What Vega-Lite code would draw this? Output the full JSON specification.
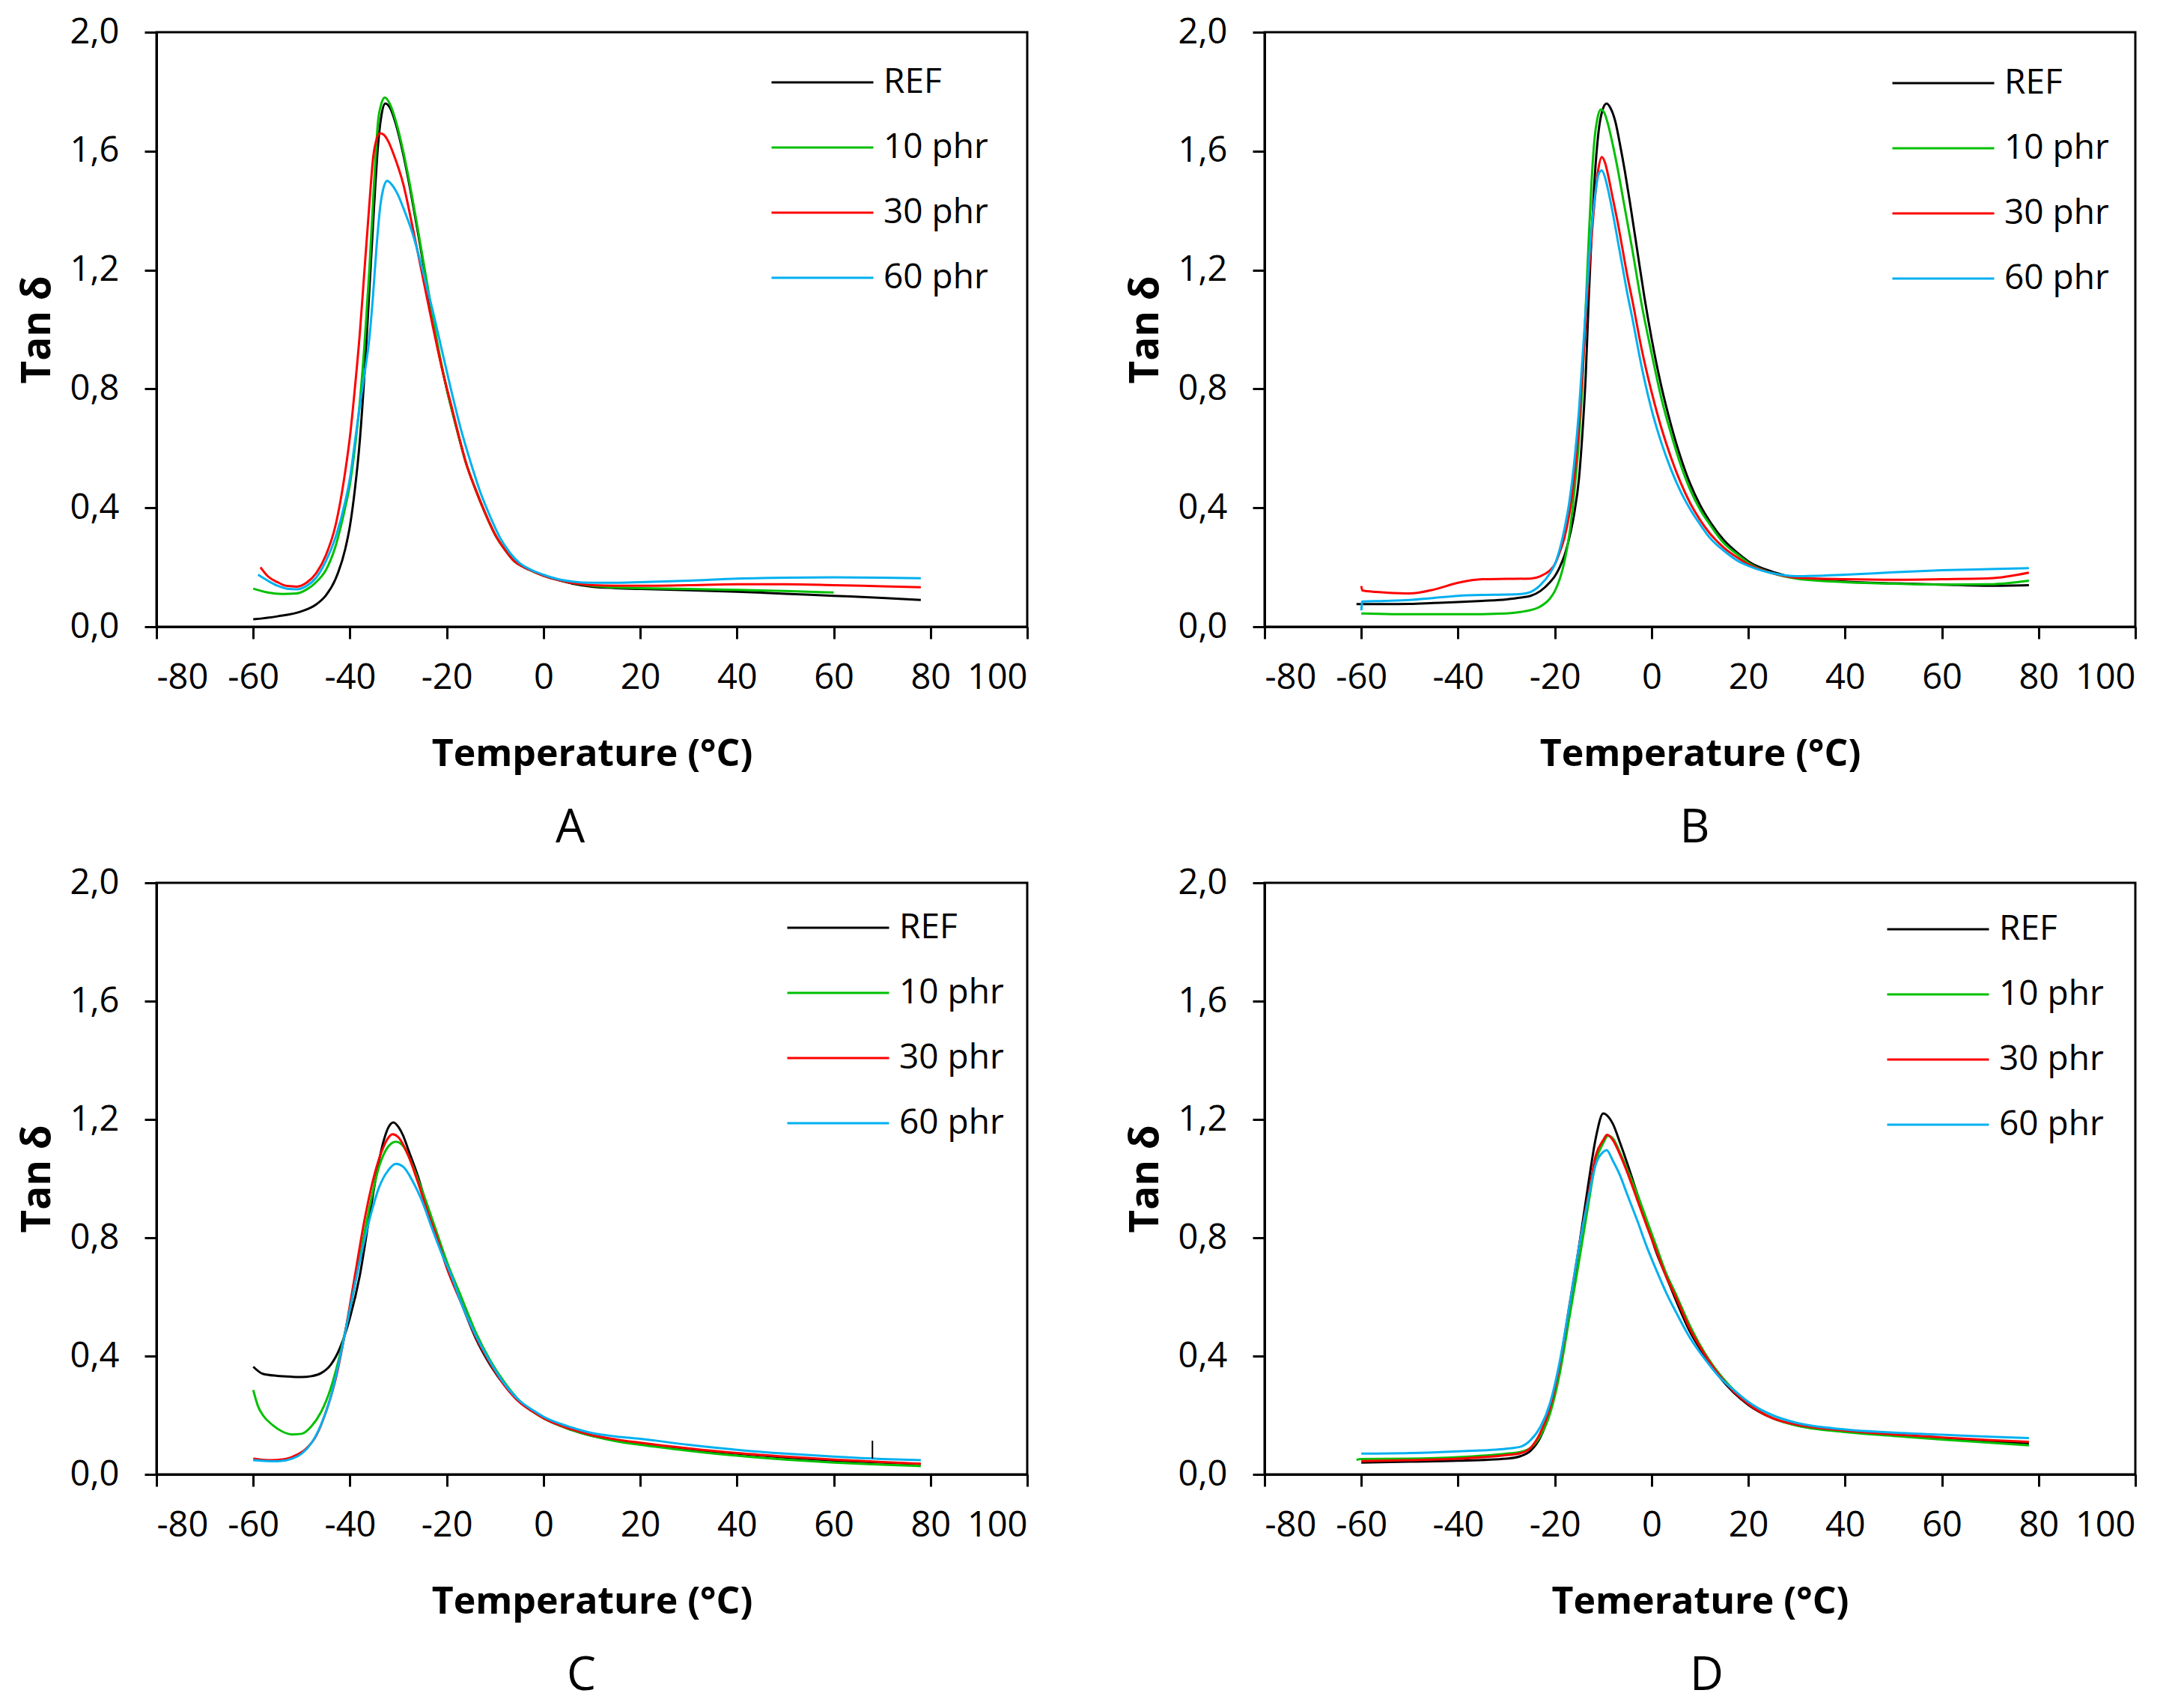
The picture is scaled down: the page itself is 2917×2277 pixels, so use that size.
{
"$schema": "https://vega.github.io/schema/vega-lite/v6.json",
"background": "white",
"padding": {"left": 22, "top": 17, "right": 5, "bottom": 5},
"config": {
  "font": "Open Sans",
  "view": {"stroke": "black", "strokeWidth": 3},
  "axis": {"grid": false, "domainColor": "black", "domainWidth": 3, "tickColor": "black", "tickWidth": 3, "tickSize": 16,
           "labelFont": "Open Sans", "labelFontSize": 47, "labelColor": "black", "titleFont": "Open Sans", "titleFontSize": 50, "titleFontWeight": "bold", "titleColor": "black"},
  "axisX": {"labelPadding": 29, "titlePadding": 54},
  "axisY": {"labelPadding": 34, "titlePadding": 16, "titleFontSize": 53},
  "title": {"font": "Open Sans", "fontSize": 62, "fontWeight": "normal", "color": "black", "orient": "bottom", "offset": 44},
  "legend": {"orient": "none", "symbolType": "stroke", "symbolSize": 18496, "symbolStrokeWidth": 3, "labelFont": "Open Sans", "labelFontSize": 46, "labelColor": "black", "labelOffset": 12, "clipHeight": 80, "rowPadding": 7, "padding": 0}
},
"datasets": {
"a": [
{"s":"REF","t":-60,"v":0.025},{"s":"REF","t":-55,"v":0.035},{"s":"REF","t":-50,"v":0.052},{"s":"REF","t":-47,"v":0.075},{"s":"REF","t":-45,"v":0.105},{"s":"REF","t":-43,"v":0.16},{"s":"REF","t":-41,"v":0.26},{"s":"REF","t":-40,"v":0.34},{"s":"REF","t":-39,"v":0.46},{"s":"REF","t":-38,"v":0.62},{"s":"REF","t":-37,"v":0.85},{"s":"REF","t":-36,"v":1.13},{"s":"REF","t":-35,"v":1.42},{"s":"REF","t":-34.2,"v":1.62},{"s":"REF","t":-33.5,"v":1.72},{"s":"REF","t":-32.7,"v":1.76},{"s":"REF","t":-31.7,"v":1.745},{"s":"REF","t":-30.5,"v":1.69},{"s":"REF","t":-29,"v":1.59},{"s":"REF","t":-28,"v":1.51},{"s":"REF","t":-26,"v":1.33},{"s":"REF","t":-24,"v":1.14},{"s":"REF","t":-22,"v":0.95},{"s":"REF","t":-20,"v":0.8},{"s":"REF","t":-18,"v":0.67},{"s":"REF","t":-16,"v":0.55},{"s":"REF","t":-14,"v":0.46},{"s":"REF","t":-12,"v":0.38},{"s":"REF","t":-10,"v":0.31},{"s":"REF","t":-8,"v":0.26},{"s":"REF","t":-6,"v":0.22},{"s":"REF","t":-4,"v":0.2},{"s":"REF","t":-2,"v":0.185},{"s":"REF","t":0,"v":0.172},{"s":"REF","t":3,"v":0.157},{"s":"REF","t":6,"v":0.145},{"s":"REF","t":10,"v":0.135},{"s":"REF","t":15,"v":0.13},{"s":"REF","t":20,"v":0.127},{"s":"REF","t":30,"v":0.123},{"s":"REF","t":40,"v":0.118},{"s":"REF","t":50,"v":0.111},{"s":"REF","t":60,"v":0.104},{"s":"REF","t":70,"v":0.097},{"s":"REF","t":78,"v":0.09},
{"s":"10 phr","t":-60,"v":0.128},{"s":"10 phr","t":-57,"v":0.115},{"s":"10 phr","t":-54,"v":0.11},{"s":"10 phr","t":-51,"v":0.112},{"s":"10 phr","t":-49,"v":0.125},{"s":"10 phr","t":-47,"v":0.15},{"s":"10 phr","t":-45,"v":0.19},{"s":"10 phr","t":-43,"v":0.27},{"s":"10 phr","t":-42,"v":0.33},{"s":"10 phr","t":-41,"v":0.4},{"s":"10 phr","t":-40,"v":0.48},{"s":"10 phr","t":-39,"v":0.6},{"s":"10 phr","t":-38,"v":0.75},{"s":"10 phr","t":-37,"v":0.95},{"s":"10 phr","t":-36,"v":1.2},{"s":"10 phr","t":-35,"v":1.5},{"s":"10 phr","t":-34.2,"v":1.7},{"s":"10 phr","t":-33.5,"v":1.76},{"s":"10 phr","t":-32.8,"v":1.78},{"s":"10 phr","t":-31.8,"v":1.76},{"s":"10 phr","t":-30.5,"v":1.7},{"s":"10 phr","t":-29,"v":1.6},{"s":"10 phr","t":-28,"v":1.52},{"s":"10 phr","t":-26,"v":1.34},{"s":"10 phr","t":-24,"v":1.15},{"s":"10 phr","t":-22,"v":0.96},{"s":"10 phr","t":-20,"v":0.8},{"s":"10 phr","t":-18,"v":0.67},{"s":"10 phr","t":-16,"v":0.55},{"s":"10 phr","t":-14,"v":0.46},{"s":"10 phr","t":-12,"v":0.38},{"s":"10 phr","t":-10,"v":0.31},{"s":"10 phr","t":-8,"v":0.26},{"s":"10 phr","t":-6,"v":0.22},{"s":"10 phr","t":-4,"v":0.2},{"s":"10 phr","t":-2,"v":0.185},{"s":"10 phr","t":0,"v":0.172},{"s":"10 phr","t":3,"v":0.158},{"s":"10 phr","t":6,"v":0.147},{"s":"10 phr","t":10,"v":0.138},{"s":"10 phr","t":15,"v":0.132},{"s":"10 phr","t":20,"v":0.13},{"s":"10 phr","t":30,"v":0.127},{"s":"10 phr","t":40,"v":0.124},{"s":"10 phr","t":50,"v":0.12},{"s":"10 phr","t":60,"v":0.115},
{"s":"30 phr","t":-58.5,"v":0.2},{"s":"30 phr","t":-57,"v":0.17},{"s":"30 phr","t":-55,"v":0.15},{"s":"30 phr","t":-53,"v":0.137},{"s":"30 phr","t":-51,"v":0.135},{"s":"30 phr","t":-49,"v":0.148},{"s":"30 phr","t":-47,"v":0.18},{"s":"30 phr","t":-45,"v":0.24},{"s":"30 phr","t":-43,"v":0.34},{"s":"30 phr","t":-42,"v":0.42},{"s":"30 phr","t":-41,"v":0.52},{"s":"30 phr","t":-40,"v":0.64},{"s":"30 phr","t":-39,"v":0.8},{"s":"30 phr","t":-38,"v":0.98},{"s":"30 phr","t":-37,"v":1.2},{"s":"30 phr","t":-36,"v":1.42},{"s":"30 phr","t":-35.2,"v":1.58},{"s":"30 phr","t":-34.5,"v":1.64},{"s":"30 phr","t":-33.8,"v":1.66},{"s":"30 phr","t":-33,"v":1.655},{"s":"30 phr","t":-32,"v":1.63},{"s":"30 phr","t":-31,"v":1.59},{"s":"30 phr","t":-29,"v":1.49},{"s":"30 phr","t":-27,"v":1.34},{"s":"30 phr","t":-25,"v":1.18},{"s":"30 phr","t":-23,"v":1.02},{"s":"30 phr","t":-21,"v":0.87},{"s":"30 phr","t":-19,"v":0.74},{"s":"30 phr","t":-17,"v":0.61},{"s":"30 phr","t":-16,"v":0.55},{"s":"30 phr","t":-14,"v":0.46},{"s":"30 phr","t":-12,"v":0.38},{"s":"30 phr","t":-10,"v":0.31},{"s":"30 phr","t":-8,"v":0.26},{"s":"30 phr","t":-6,"v":0.22},{"s":"30 phr","t":-4,"v":0.2},{"s":"30 phr","t":-2,"v":0.185},{"s":"30 phr","t":0,"v":0.172},{"s":"30 phr","t":3,"v":0.157},{"s":"30 phr","t":6,"v":0.147},{"s":"30 phr","t":10,"v":0.14},{"s":"30 phr","t":15,"v":0.138},{"s":"30 phr","t":20,"v":0.138},{"s":"30 phr","t":30,"v":0.14},{"s":"30 phr","t":40,"v":0.143},{"s":"30 phr","t":50,"v":0.143},{"s":"30 phr","t":60,"v":0.14},{"s":"30 phr","t":70,"v":0.136},{"s":"30 phr","t":78,"v":0.133},
{"s":"60 phr","t":-59,"v":0.175},{"s":"60 phr","t":-57,"v":0.155},{"s":"60 phr","t":-55,"v":0.138},{"s":"60 phr","t":-53,"v":0.128},{"s":"60 phr","t":-51,"v":0.126},{"s":"60 phr","t":-49,"v":0.137},{"s":"60 phr","t":-47,"v":0.165},{"s":"60 phr","t":-45,"v":0.22},{"s":"60 phr","t":-43,"v":0.3},{"s":"60 phr","t":-41,"v":0.42},{"s":"60 phr","t":-40,"v":0.5},{"s":"60 phr","t":-39,"v":0.62},{"s":"60 phr","t":-38,"v":0.74},{"s":"60 phr","t":-37,"v":0.85},{"s":"60 phr","t":-36,"v":0.97},{"s":"60 phr","t":-35.3,"v":1.1},{"s":"60 phr","t":-34.5,"v":1.28},{"s":"60 phr","t":-33.7,"v":1.42},{"s":"60 phr","t":-33,"v":1.48},{"s":"60 phr","t":-32.3,"v":1.5},{"s":"60 phr","t":-31.5,"v":1.49},{"s":"60 phr","t":-30,"v":1.45},{"s":"60 phr","t":-29,"v":1.41},{"s":"60 phr","t":-27,"v":1.32},{"s":"60 phr","t":-25,"v":1.2},{"s":"60 phr","t":-23,"v":1.07},{"s":"60 phr","t":-21,"v":0.93},{"s":"60 phr","t":-19,"v":0.79},{"s":"60 phr","t":-17,"v":0.66},{"s":"60 phr","t":-15,"v":0.55},{"s":"60 phr","t":-13,"v":0.45},{"s":"60 phr","t":-11,"v":0.37},{"s":"60 phr","t":-9,"v":0.3},{"s":"60 phr","t":-7,"v":0.25},{"s":"60 phr","t":-5,"v":0.215},{"s":"60 phr","t":-3,"v":0.195},{"s":"60 phr","t":0,"v":0.175},{"s":"60 phr","t":3,"v":0.16},{"s":"60 phr","t":6,"v":0.152},{"s":"60 phr","t":10,"v":0.148},{"s":"60 phr","t":15,"v":0.148},{"s":"60 phr","t":20,"v":0.15},{"s":"60 phr","t":30,"v":0.155},{"s":"60 phr","t":40,"v":0.162},{"s":"60 phr","t":50,"v":0.165},{"s":"60 phr","t":60,"v":0.166},{"s":"60 phr","t":70,"v":0.165},{"s":"60 phr","t":78,"v":0.163}
],
"b": [
{"s":"REF","t":-61,"v":0.076},{"s":"REF","t":-55,"v":0.076},{"s":"REF","t":-50,"v":0.077},{"s":"REF","t":-45,"v":0.08},{"s":"REF","t":-40,"v":0.083},{"s":"REF","t":-35,"v":0.087},{"s":"REF","t":-30,"v":0.092},{"s":"REF","t":-27,"v":0.098},{"s":"REF","t":-25,"v":0.104},{"s":"REF","t":-23,"v":0.12},{"s":"REF","t":-21,"v":0.15},{"s":"REF","t":-20,"v":0.17},{"s":"REF","t":-19,"v":0.2},{"s":"REF","t":-18,"v":0.24},{"s":"REF","t":-17,"v":0.3},{"s":"REF","t":-16,"v":0.38},{"s":"REF","t":-15,"v":0.5},{"s":"REF","t":-14.3,"v":0.65},{"s":"REF","t":-13.6,"v":0.85},{"s":"REF","t":-13,"v":1.1},{"s":"REF","t":-12.4,"v":1.32},{"s":"REF","t":-11.8,"v":1.5},{"s":"REF","t":-11,"v":1.66},{"s":"REF","t":-10.2,"v":1.735},{"s":"REF","t":-9.3,"v":1.76},{"s":"REF","t":-8.5,"v":1.745},{"s":"REF","t":-7.5,"v":1.7},{"s":"REF","t":-6.5,"v":1.62},{"s":"REF","t":-5.5,"v":1.53},{"s":"REF","t":-4.5,"v":1.43},{"s":"REF","t":-3,"v":1.27},{"s":"REF","t":-1.5,"v":1.11},{"s":"REF","t":0,"v":0.97},{"s":"REF","t":2,"v":0.81},{"s":"REF","t":4,"v":0.68},{"s":"REF","t":6,"v":0.57},{"s":"REF","t":8,"v":0.48},{"s":"REF","t":10,"v":0.41},{"s":"REF","t":12,"v":0.355},{"s":"REF","t":15,"v":0.29},{"s":"REF","t":18,"v":0.245},{"s":"REF","t":20,"v":0.22},{"s":"REF","t":25,"v":0.185},{"s":"REF","t":30,"v":0.165},{"s":"REF","t":40,"v":0.152},{"s":"REF","t":50,"v":0.146},{"s":"REF","t":60,"v":0.142},{"s":"REF","t":70,"v":0.138},{"s":"REF","t":78,"v":0.14},
{"s":"10 phr","t":-60,"v":0.045},{"s":"10 phr","t":-55,"v":0.043},{"s":"10 phr","t":-50,"v":0.042},{"s":"10 phr","t":-40,"v":0.042},{"s":"10 phr","t":-30,"v":0.045},{"s":"10 phr","t":-27,"v":0.05},{"s":"10 phr","t":-25,"v":0.056},{"s":"10 phr","t":-23,"v":0.068},{"s":"10 phr","t":-21,"v":0.095},{"s":"10 phr","t":-20,"v":0.12},{"s":"10 phr","t":-19,"v":0.16},{"s":"10 phr","t":-18,"v":0.22},{"s":"10 phr","t":-17,"v":0.31},{"s":"10 phr","t":-16,"v":0.45},{"s":"10 phr","t":-15,"v":0.63},{"s":"10 phr","t":-14.3,"v":0.82},{"s":"10 phr","t":-13.6,"v":1.08},{"s":"10 phr","t":-13,"v":1.3},{"s":"10 phr","t":-12.4,"v":1.5},{"s":"10 phr","t":-11.8,"v":1.64},{"s":"10 phr","t":-11.2,"v":1.71},{"s":"10 phr","t":-10.5,"v":1.74},{"s":"10 phr","t":-9.8,"v":1.73},{"s":"10 phr","t":-9,"v":1.69},{"s":"10 phr","t":-8,"v":1.62},{"s":"10 phr","t":-7,"v":1.54},{"s":"10 phr","t":-6,"v":1.45},{"s":"10 phr","t":-5,"v":1.36},{"s":"10 phr","t":-4,"v":1.27},{"s":"10 phr","t":-2,"v":1.08},{"s":"10 phr","t":0,"v":0.92},{"s":"10 phr","t":2,"v":0.77},{"s":"10 phr","t":4,"v":0.65},{"s":"10 phr","t":6,"v":0.545},{"s":"10 phr","t":8,"v":0.46},{"s":"10 phr","t":10,"v":0.395},{"s":"10 phr","t":12,"v":0.345},{"s":"10 phr","t":15,"v":0.28},{"s":"10 phr","t":18,"v":0.24},{"s":"10 phr","t":20,"v":0.215},{"s":"10 phr","t":25,"v":0.18},{"s":"10 phr","t":30,"v":0.162},{"s":"10 phr","t":40,"v":0.15},{"s":"10 phr","t":50,"v":0.145},{"s":"10 phr","t":60,"v":0.142},{"s":"10 phr","t":70,"v":0.143},{"s":"10 phr","t":78,"v":0.155},
{"s":"30 phr","t":-60,"v":0.137},{"s":"30 phr","t":-59.8,"v":0.122},{"s":"30 phr","t":-57,"v":0.117},{"s":"30 phr","t":-55,"v":0.115},{"s":"30 phr","t":-50,"v":0.112},{"s":"30 phr","t":-45,"v":0.125},{"s":"30 phr","t":-40,"v":0.148},{"s":"30 phr","t":-35,"v":0.16},{"s":"30 phr","t":-30,"v":0.161},{"s":"30 phr","t":-25,"v":0.162},{"s":"30 phr","t":-23,"v":0.17},{"s":"30 phr","t":-21,"v":0.19},{"s":"30 phr","t":-20,"v":0.21},{"s":"30 phr","t":-19,"v":0.25},{"s":"30 phr","t":-18,"v":0.3},{"s":"30 phr","t":-17,"v":0.38},{"s":"30 phr","t":-16,"v":0.5},{"s":"30 phr","t":-15,"v":0.68},{"s":"30 phr","t":-14.3,"v":0.85},{"s":"30 phr","t":-13.6,"v":1.03},{"s":"30 phr","t":-13,"v":1.18},{"s":"30 phr","t":-12.3,"v":1.33},{"s":"30 phr","t":-11.6,"v":1.46},{"s":"30 phr","t":-11,"v":1.54},{"s":"30 phr","t":-10.3,"v":1.58},{"s":"30 phr","t":-9.6,"v":1.56},{"s":"30 phr","t":-9,"v":1.52},{"s":"30 phr","t":-8,"v":1.44},{"s":"30 phr","t":-7,"v":1.36},{"s":"30 phr","t":-6,"v":1.27},{"s":"30 phr","t":-5,"v":1.18},{"s":"30 phr","t":-4,"v":1.1},{"s":"30 phr","t":-2,"v":0.93},{"s":"30 phr","t":0,"v":0.79},{"s":"30 phr","t":2,"v":0.67},{"s":"30 phr","t":4,"v":0.57},{"s":"30 phr","t":6,"v":0.485},{"s":"30 phr","t":8,"v":0.415},{"s":"30 phr","t":10,"v":0.36},{"s":"30 phr","t":12,"v":0.315},{"s":"30 phr","t":15,"v":0.265},{"s":"30 phr","t":18,"v":0.23},{"s":"30 phr","t":20,"v":0.21},{"s":"30 phr","t":25,"v":0.18},{"s":"30 phr","t":30,"v":0.165},{"s":"30 phr","t":40,"v":0.16},{"s":"30 phr","t":50,"v":0.158},{"s":"30 phr","t":60,"v":0.16},{"s":"30 phr","t":70,"v":0.163},{"s":"30 phr","t":78,"v":0.182},
{"s":"60 phr","t":-60,"v":0.055},{"s":"60 phr","t":-59.8,"v":0.085},{"s":"60 phr","t":-55,"v":0.087},{"s":"60 phr","t":-50,"v":0.09},{"s":"60 phr","t":-45,"v":0.097},{"s":"60 phr","t":-40,"v":0.104},{"s":"60 phr","t":-35,"v":0.107},{"s":"60 phr","t":-30,"v":0.108},{"s":"60 phr","t":-27,"v":0.11},{"s":"60 phr","t":-25,"v":0.117},{"s":"60 phr","t":-23,"v":0.14},{"s":"60 phr","t":-21,"v":0.18},{"s":"60 phr","t":-20,"v":0.21},{"s":"60 phr","t":-19,"v":0.26},{"s":"60 phr","t":-18,"v":0.33},{"s":"60 phr","t":-17,"v":0.42},{"s":"60 phr","t":-16,"v":0.55},{"s":"60 phr","t":-15,"v":0.73},{"s":"60 phr","t":-14.3,"v":0.9},{"s":"60 phr","t":-13.6,"v":1.07},{"s":"60 phr","t":-13,"v":1.22},{"s":"60 phr","t":-12.3,"v":1.36},{"s":"60 phr","t":-11.6,"v":1.46},{"s":"60 phr","t":-11,"v":1.52},{"s":"60 phr","t":-10.3,"v":1.535},{"s":"60 phr","t":-9.6,"v":1.51},{"s":"60 phr","t":-9,"v":1.47},{"s":"60 phr","t":-8,"v":1.39},{"s":"60 phr","t":-7,"v":1.3},{"s":"60 phr","t":-6,"v":1.21},{"s":"60 phr","t":-5,"v":1.12},{"s":"60 phr","t":-4,"v":1.04},{"s":"60 phr","t":-2,"v":0.87},{"s":"60 phr","t":0,"v":0.73},{"s":"60 phr","t":2,"v":0.62},{"s":"60 phr","t":4,"v":0.53},{"s":"60 phr","t":6,"v":0.455},{"s":"60 phr","t":8,"v":0.395},{"s":"60 phr","t":10,"v":0.345},{"s":"60 phr","t":12,"v":0.3},{"s":"60 phr","t":15,"v":0.255},{"s":"60 phr","t":18,"v":0.22},{"s":"60 phr","t":20,"v":0.205},{"s":"60 phr","t":25,"v":0.18},{"s":"60 phr","t":30,"v":0.17},{"s":"60 phr","t":40,"v":0.175},{"s":"60 phr","t":50,"v":0.183},{"s":"60 phr","t":60,"v":0.19},{"s":"60 phr","t":70,"v":0.194},{"s":"60 phr","t":78,"v":0.197}
],
"c": [
{"s":"REF","t":-60,"v":0.364},{"s":"REF","t":-58,"v":0.34},{"s":"REF","t":-55,"v":0.333},{"s":"REF","t":-52,"v":0.33},{"s":"REF","t":-50,"v":0.329},{"s":"REF","t":-48,"v":0.332},{"s":"REF","t":-46,"v":0.342},{"s":"REF","t":-44,"v":0.37},{"s":"REF","t":-42,"v":0.43},{"s":"REF","t":-40,"v":0.53},{"s":"REF","t":-38,"v":0.67},{"s":"REF","t":-36,"v":0.87},{"s":"REF","t":-34,"v":1.06},{"s":"REF","t":-33,"v":1.13},{"s":"REF","t":-32,"v":1.175},{"s":"REF","t":-31,"v":1.19},{"s":"REF","t":-30,"v":1.175},{"s":"REF","t":-29,"v":1.145},{"s":"REF","t":-28,"v":1.1},{"s":"REF","t":-26,"v":1.01},{"s":"REF","t":-24,"v":0.9},{"s":"REF","t":-22,"v":0.8},{"s":"REF","t":-20,"v":0.7},{"s":"REF","t":-17,"v":0.58},{"s":"REF","t":-14,"v":0.46},{"s":"REF","t":-11,"v":0.37},{"s":"REF","t":-8,"v":0.3},{"s":"REF","t":-5,"v":0.245},{"s":"REF","t":-2,"v":0.21},{"s":"REF","t":0,"v":0.19},{"s":"REF","t":5,"v":0.155},{"s":"REF","t":10,"v":0.13},{"s":"REF","t":15,"v":0.115},{"s":"REF","t":20,"v":0.105},{"s":"REF","t":30,"v":0.085},{"s":"REF","t":40,"v":0.07},{"s":"REF","t":50,"v":0.057},{"s":"REF","t":60,"v":0.047},{"s":"REF","t":70,"v":0.04},{"s":"REF","t":78,"v":0.035},
{"s":"10 phr","t":-60,"v":0.285},{"s":"10 phr","t":-59,"v":0.23},{"s":"10 phr","t":-58,"v":0.2},{"s":"10 phr","t":-56,"v":0.167},{"s":"10 phr","t":-54,"v":0.145},{"s":"10 phr","t":-52,"v":0.135},{"s":"10 phr","t":-50,"v":0.137},{"s":"10 phr","t":-48,"v":0.162},{"s":"10 phr","t":-46,"v":0.21},{"s":"10 phr","t":-44,"v":0.29},{"s":"10 phr","t":-42,"v":0.41},{"s":"10 phr","t":-40,"v":0.56},{"s":"10 phr","t":-38,"v":0.73},{"s":"10 phr","t":-36,"v":0.9},{"s":"10 phr","t":-34,"v":1.04},{"s":"10 phr","t":-32,"v":1.11},{"s":"10 phr","t":-30.5,"v":1.125},{"s":"10 phr","t":-29,"v":1.11},{"s":"10 phr","t":-28,"v":1.08},{"s":"10 phr","t":-26,"v":1.0},{"s":"10 phr","t":-24,"v":0.91},{"s":"10 phr","t":-22,"v":0.815},{"s":"10 phr","t":-20,"v":0.72},{"s":"10 phr","t":-17,"v":0.6},{"s":"10 phr","t":-14,"v":0.48},{"s":"10 phr","t":-11,"v":0.385},{"s":"10 phr","t":-8,"v":0.31},{"s":"10 phr","t":-5,"v":0.25},{"s":"10 phr","t":-2,"v":0.21},{"s":"10 phr","t":0,"v":0.19},{"s":"10 phr","t":5,"v":0.155},{"s":"10 phr","t":10,"v":0.13},{"s":"10 phr","t":15,"v":0.112},{"s":"10 phr","t":20,"v":0.1},{"s":"10 phr","t":30,"v":0.08},{"s":"10 phr","t":40,"v":0.063},{"s":"10 phr","t":50,"v":0.05},{"s":"10 phr","t":60,"v":0.04},{"s":"10 phr","t":70,"v":0.033},{"s":"10 phr","t":78,"v":0.028},
{"s":"30 phr","t":-60,"v":0.053},{"s":"30 phr","t":-57,"v":0.048},{"s":"30 phr","t":-55,"v":0.049},{"s":"30 phr","t":-53,"v":0.053},{"s":"30 phr","t":-51,"v":0.066},{"s":"30 phr","t":-49,"v":0.088},{"s":"30 phr","t":-47,"v":0.13},{"s":"30 phr","t":-45,"v":0.21},{"s":"30 phr","t":-43,"v":0.32},{"s":"30 phr","t":-41,"v":0.48},{"s":"30 phr","t":-39,"v":0.67},{"s":"30 phr","t":-37,"v":0.86},{"s":"30 phr","t":-35,"v":1.01},{"s":"30 phr","t":-33,"v":1.11},{"s":"30 phr","t":-32,"v":1.14},{"s":"30 phr","t":-31.2,"v":1.15},{"s":"30 phr","t":-30,"v":1.14},{"s":"30 phr","t":-28,"v":1.08},{"s":"30 phr","t":-26,"v":0.99},{"s":"30 phr","t":-24,"v":0.89},{"s":"30 phr","t":-22,"v":0.8},{"s":"30 phr","t":-20,"v":0.7},{"s":"30 phr","t":-17,"v":0.58},{"s":"30 phr","t":-14,"v":0.465},{"s":"30 phr","t":-11,"v":0.375},{"s":"30 phr","t":-8,"v":0.3},{"s":"30 phr","t":-5,"v":0.245},{"s":"30 phr","t":-2,"v":0.21},{"s":"30 phr","t":0,"v":0.19},{"s":"30 phr","t":5,"v":0.157},{"s":"30 phr","t":10,"v":0.133},{"s":"30 phr","t":15,"v":0.118},{"s":"30 phr","t":20,"v":0.107},{"s":"30 phr","t":30,"v":0.088},{"s":"30 phr","t":40,"v":0.072},{"s":"30 phr","t":50,"v":0.06},{"s":"30 phr","t":60,"v":0.05},{"s":"30 phr","t":70,"v":0.042},{"s":"30 phr","t":78,"v":0.036},
{"s":"60 phr","t":-60,"v":0.048},{"s":"60 phr","t":-55,"v":0.044},{"s":"60 phr","t":-52,"v":0.053},{"s":"60 phr","t":-50,"v":0.07},{"s":"60 phr","t":-48,"v":0.105},{"s":"60 phr","t":-46,"v":0.167},{"s":"60 phr","t":-44,"v":0.26},{"s":"60 phr","t":-42,"v":0.4},{"s":"60 phr","t":-40,"v":0.56},{"s":"60 phr","t":-38,"v":0.72},{"s":"60 phr","t":-36,"v":0.86},{"s":"60 phr","t":-34,"v":0.97},{"s":"60 phr","t":-32,"v":1.03},{"s":"60 phr","t":-30.5,"v":1.05},{"s":"60 phr","t":-29,"v":1.04},{"s":"60 phr","t":-27,"v":0.99},{"s":"60 phr","t":-25,"v":0.92},{"s":"60 phr","t":-23,"v":0.83},{"s":"60 phr","t":-21,"v":0.745},{"s":"60 phr","t":-19,"v":0.67},{"s":"60 phr","t":-17,"v":0.58},{"s":"60 phr","t":-14,"v":0.47},{"s":"60 phr","t":-11,"v":0.38},{"s":"60 phr","t":-8,"v":0.305},{"s":"60 phr","t":-5,"v":0.25},{"s":"60 phr","t":-2,"v":0.215},{"s":"60 phr","t":0,"v":0.195},{"s":"60 phr","t":5,"v":0.163},{"s":"60 phr","t":10,"v":0.14},{"s":"60 phr","t":15,"v":0.128},{"s":"60 phr","t":20,"v":0.12},{"s":"60 phr","t":30,"v":0.1},{"s":"60 phr","t":40,"v":0.083},{"s":"60 phr","t":50,"v":0.07},{"s":"60 phr","t":60,"v":0.06},{"s":"60 phr","t":70,"v":0.052},{"s":"60 phr","t":78,"v":0.048}
],
"cmark": [{"t": 68, "lo": 0.053, "hi": 0.114}],
"d": [
{"s":"REF","t":-60,"v":0.04},{"s":"REF","t":-50,"v":0.043},{"s":"REF","t":-40,"v":0.046},{"s":"REF","t":-30,"v":0.053},{"s":"REF","t":-27,"v":0.062},{"s":"REF","t":-25,"v":0.08},{"s":"REF","t":-23,"v":0.125},{"s":"REF","t":-21,"v":0.214},{"s":"REF","t":-19,"v":0.357},{"s":"REF","t":-17,"v":0.54},{"s":"REF","t":-15,"v":0.77},{"s":"REF","t":-13,"v":0.99},{"s":"REF","t":-11.5,"v":1.14},{"s":"REF","t":-10,"v":1.22},{"s":"REF","t":-9,"v":1.21},{"s":"REF","t":-8,"v":1.185},{"s":"REF","t":-6.5,"v":1.12},{"s":"REF","t":-5,"v":1.05},{"s":"REF","t":-3,"v":0.95},{"s":"REF","t":-1,"v":0.85},{"s":"REF","t":1,"v":0.75},{"s":"REF","t":3,"v":0.67},{"s":"REF","t":5,"v":0.59},{"s":"REF","t":8,"v":0.48},{"s":"REF","t":11,"v":0.4},{"s":"REF","t":14,"v":0.33},{"s":"REF","t":17,"v":0.276},{"s":"REF","t":20,"v":0.235},{"s":"REF","t":25,"v":0.19},{"s":"REF","t":30,"v":0.166},{"s":"REF","t":40,"v":0.146},{"s":"REF","t":50,"v":0.133},{"s":"REF","t":60,"v":0.122},{"s":"REF","t":70,"v":0.112},{"s":"REF","t":78,"v":0.105},
{"s":"10 phr","t":-61,"v":0.049},{"s":"10 phr","t":-60,"v":0.052},{"s":"10 phr","t":-50,"v":0.053},{"s":"10 phr","t":-40,"v":0.058},{"s":"10 phr","t":-30,"v":0.07},{"s":"10 phr","t":-27,"v":0.076},{"s":"10 phr","t":-25,"v":0.09},{"s":"10 phr","t":-23,"v":0.13},{"s":"10 phr","t":-21,"v":0.205},{"s":"10 phr","t":-19,"v":0.34},{"s":"10 phr","t":-17,"v":0.53},{"s":"10 phr","t":-15,"v":0.72},{"s":"10 phr","t":-13,"v":0.92},{"s":"10 phr","t":-11.5,"v":1.06},{"s":"10 phr","t":-10,"v":1.12},{"s":"10 phr","t":-9,"v":1.145},{"s":"10 phr","t":-8,"v":1.136},{"s":"10 phr","t":-6.5,"v":1.087},{"s":"10 phr","t":-5,"v":1.03},{"s":"10 phr","t":-3,"v":0.95},{"s":"10 phr","t":-1,"v":0.86},{"s":"10 phr","t":1,"v":0.77},{"s":"10 phr","t":3,"v":0.68},{"s":"10 phr","t":5,"v":0.61},{"s":"10 phr","t":8,"v":0.5},{"s":"10 phr","t":11,"v":0.41},{"s":"10 phr","t":14,"v":0.34},{"s":"10 phr","t":17,"v":0.285},{"s":"10 phr","t":20,"v":0.24},{"s":"10 phr","t":25,"v":0.19},{"s":"10 phr","t":30,"v":0.165},{"s":"10 phr","t":40,"v":0.143},{"s":"10 phr","t":50,"v":0.13},{"s":"10 phr","t":60,"v":0.118},{"s":"10 phr","t":70,"v":0.107},{"s":"10 phr","t":78,"v":0.098},
{"s":"30 phr","t":-60,"v":0.045},{"s":"30 phr","t":-50,"v":0.048},{"s":"30 phr","t":-40,"v":0.053},{"s":"30 phr","t":-30,"v":0.065},{"s":"30 phr","t":-27,"v":0.072},{"s":"30 phr","t":-25,"v":0.09},{"s":"30 phr","t":-23,"v":0.14},{"s":"30 phr","t":-21,"v":0.225},{"s":"30 phr","t":-19,"v":0.37},{"s":"30 phr","t":-17,"v":0.57},{"s":"30 phr","t":-15,"v":0.77},{"s":"30 phr","t":-13,"v":0.95},{"s":"30 phr","t":-11.5,"v":1.08},{"s":"30 phr","t":-10,"v":1.13},{"s":"30 phr","t":-9.2,"v":1.148},{"s":"30 phr","t":-8,"v":1.13},{"s":"30 phr","t":-6.5,"v":1.08},{"s":"30 phr","t":-5,"v":1.02},{"s":"30 phr","t":-3,"v":0.93},{"s":"30 phr","t":-1,"v":0.84},{"s":"30 phr","t":1,"v":0.755},{"s":"30 phr","t":3,"v":0.67},{"s":"30 phr","t":5,"v":0.6},{"s":"30 phr","t":8,"v":0.49},{"s":"30 phr","t":11,"v":0.405},{"s":"30 phr","t":14,"v":0.335},{"s":"30 phr","t":17,"v":0.28},{"s":"30 phr","t":20,"v":0.238},{"s":"30 phr","t":25,"v":0.19},{"s":"30 phr","t":30,"v":0.168},{"s":"30 phr","t":40,"v":0.148},{"s":"30 phr","t":50,"v":0.135},{"s":"30 phr","t":60,"v":0.125},{"s":"30 phr","t":70,"v":0.116},{"s":"30 phr","t":78,"v":0.11},
{"s":"60 phr","t":-60,"v":0.07},{"s":"60 phr","t":-50,"v":0.072},{"s":"60 phr","t":-40,"v":0.078},{"s":"60 phr","t":-30,"v":0.087},{"s":"60 phr","t":-27,"v":0.094},{"s":"60 phr","t":-25,"v":0.116},{"s":"60 phr","t":-23,"v":0.16},{"s":"60 phr","t":-21,"v":0.24},{"s":"60 phr","t":-19,"v":0.38},{"s":"60 phr","t":-17,"v":0.57},{"s":"60 phr","t":-15,"v":0.77},{"s":"60 phr","t":-13,"v":0.94},{"s":"60 phr","t":-11.5,"v":1.05},{"s":"60 phr","t":-10,"v":1.09},{"s":"60 phr","t":-9.3,"v":1.096},{"s":"60 phr","t":-8,"v":1.06},{"s":"60 phr","t":-6.5,"v":1.01},{"s":"60 phr","t":-5,"v":0.945},{"s":"60 phr","t":-3,"v":0.86},{"s":"60 phr","t":-1,"v":0.77},{"s":"60 phr","t":1,"v":0.69},{"s":"60 phr","t":3,"v":0.615},{"s":"60 phr","t":5,"v":0.55},{"s":"60 phr","t":8,"v":0.46},{"s":"60 phr","t":11,"v":0.39},{"s":"60 phr","t":14,"v":0.33},{"s":"60 phr","t":17,"v":0.285},{"s":"60 phr","t":20,"v":0.245},{"s":"60 phr","t":25,"v":0.2},{"s":"60 phr","t":30,"v":0.174},{"s":"60 phr","t":40,"v":0.152},{"s":"60 phr","t":50,"v":0.141},{"s":"60 phr","t":60,"v":0.134},{"s":"60 phr","t":70,"v":0.127},{"s":"60 phr","t":78,"v":0.123}
]
},
"resolve": {"scale": {"color": "independent"}, "legend": {"color": "independent"}},
"spacing": 14,
"vconcat": [
{
 "spacing": 127,
 "resolve": {"scale": {"color": "independent"}, "legend": {"color": "independent"}},
 "hconcat": [
  {
   "width": 1163, "height": 794,
   "title": {"text": "A", "dx": -29},
   "data": {"name": "a"},
   "mark": {"type": "line", "strokeWidth": 3, "interpolate": "monotone"},
   "encoding": {
     "x": {"field": "t", "type": "quantitative", "scale": {"domain": [-80, 100], "nice": false, "zero": false}, "axis": {"values": [-80,-60,-40,-20,0,20,40,60,80,100], "labelExpr": "datum.value + ''", "title": "Temperature (°C)"}},
     "y": {"field": "v", "type": "quantitative", "scale": {"domain": [0, 2], "nice": false}, "axis": {"values": [0,0.4,0.8,1.2,1.6,2.0], "labelExpr": "replace(format(datum.value, '.1f'), '.', ',')", "title": "Tan δ"}},
     "color": {"field": "s", "type": "nominal", "scale": {"domain": ["REF","10 phr","30 phr","60 phr"], "range": ["#000000","#00C000","#FF0000","#00B0F0"]}, "legend": {"title": null, "legendX": 820, "legendY": 27}}
   }
  },
  {
   "width": 1163, "height": 794,
   "title": {"text": "B", "dx": -7},
   "data": {"name": "b"},
   "mark": {"type": "line", "strokeWidth": 3, "interpolate": "monotone"},
   "encoding": {
     "x": {"field": "t", "type": "quantitative", "scale": {"domain": [-80, 100], "nice": false, "zero": false}, "axis": {"values": [-80,-60,-40,-20,0,20,40,60,80,100], "labelExpr": "datum.value + ''", "title": "Temperature (°C)"}},
     "y": {"field": "v", "type": "quantitative", "scale": {"domain": [0, 2], "nice": false}, "axis": {"values": [0,0.4,0.8,1.2,1.6,2.0], "labelExpr": "replace(format(datum.value, '.1f'), '.', ',')", "title": "Tan δ"}},
     "color": {"field": "s", "type": "nominal", "scale": {"domain": ["REF","10 phr","30 phr","60 phr"], "range": ["#000000","#00C000","#FF0000","#00B0F0"]}, "legend": {"title": null, "legendX": 837, "legendY": 28}}
   }
  }
 ]
},
{
 "spacing": 127,
 "resolve": {"scale": {"color": "independent"}, "legend": {"color": "independent"}},
 "hconcat": [
  {
   "width": 1163, "height": 790,
   "title": {"text": "C", "dx": -14},
   "layer": [
    {
     "data": {"name": "c"},
     "mark": {"type": "line", "strokeWidth": 3, "interpolate": "monotone"},
     "encoding": {
       "x": {"field": "t", "type": "quantitative", "scale": {"domain": [-80, 100], "nice": false, "zero": false}, "axis": {"values": [-80,-60,-40,-20,0,20,40,60,80,100], "labelExpr": "datum.value + ''", "title": "Temperature (°C)"}},
       "y": {"field": "v", "type": "quantitative", "scale": {"domain": [0, 2], "nice": false}, "axis": {"values": [0,0.4,0.8,1.2,1.6,2.0], "labelExpr": "replace(format(datum.value, '.1f'), '.', ',')", "title": "Tan δ"}},
       "color": {"field": "s", "type": "nominal", "scale": {"domain": ["REF","10 phr","30 phr","60 phr"], "range": ["#000000","#00C000","#FF0000","#00B0F0"]}, "legend": {"title": null, "legendX": 841, "legendY": 20}}
     }
    },
    {
     "data": {"name": "cmark"},
     "mark": {"type": "rule", "strokeWidth": 2, "color": "black"},
     "encoding": {
       "x": {"field": "t", "type": "quantitative"},
       "y": {"field": "lo", "type": "quantitative"},
       "y2": {"field": "hi"}
     }
    }
   ]
  },
  {
   "width": 1163, "height": 790,
   "title": {"text": "D", "dx": 9},
   "data": {"name": "d"},
   "mark": {"type": "line", "strokeWidth": 3, "interpolate": "monotone"},
   "encoding": {
     "x": {"field": "t", "type": "quantitative", "scale": {"domain": [-80, 100], "nice": false, "zero": false}, "axis": {"values": [-80,-60,-40,-20,0,20,40,60,80,100], "labelExpr": "datum.value + ''", "title": "Temerature (°C)"}},
     "y": {"field": "v", "type": "quantitative", "scale": {"domain": [0, 2], "nice": false}, "axis": {"values": [0,0.4,0.8,1.2,1.6,2.0], "labelExpr": "replace(format(datum.value, '.1f'), '.', ',')", "title": "Tan δ"}},
     "color": {"field": "s", "type": "nominal", "scale": {"domain": ["REF","10 phr","30 phr","60 phr"], "range": ["#000000","#00C000","#FF0000","#00B0F0"]}, "legend": {"title": null, "legendX": 830, "legendY": 22}}
   }
  }
 ]
}
]
}
